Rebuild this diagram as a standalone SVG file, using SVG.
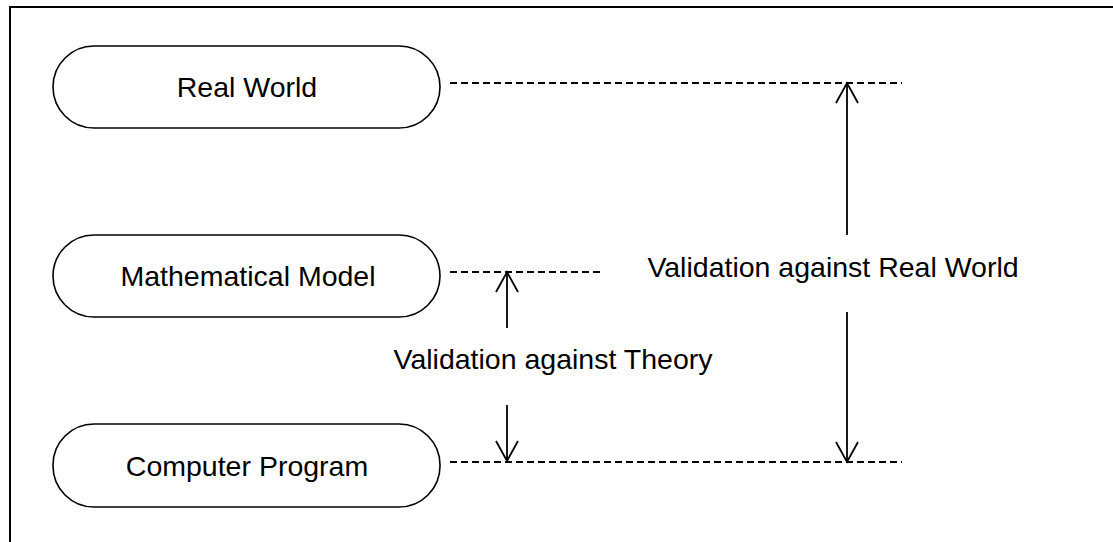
<svg xmlns="http://www.w3.org/2000/svg" width="1113" height="542" viewBox="0 0 1113 542">
<defs>
<style>
.node{fill:#fff;stroke:#000;stroke-width:1.6}
.lbl{font-family:"Liberation Sans",Arial,sans-serif;font-size:28.5px;fill:#000}
.dash{stroke:#000;stroke-width:1.8;stroke-dasharray:7 4;fill:none}
.arr{stroke:#000;stroke-width:1.8;fill:none}
</style>
<marker id="ah" viewBox="0 0 24 24" refX="22" refY="12" markerWidth="24" markerHeight="24" markerUnits="userSpaceOnUse" orient="auto">
<path d="M2,1 L22,12 L2,23" fill="none" stroke="#000" stroke-width="1.8"/>
</marker>
</defs>
<rect width="1113" height="542" fill="#fff"/>
<rect x="10" y="7" width="1200" height="600" fill="none" stroke="#000" stroke-width="2"/>
<g id="real-world">
<rect class="node" x="53" y="46" width="387" height="82" rx="41" ry="41"/>
<text class="lbl" x="247" y="97" text-anchor="middle">Real World</text>
</g>
<g id="mathematical-model">
<rect class="node" x="53" y="235" width="387" height="82" rx="41" ry="41"/>
<text class="lbl" x="248" y="286" text-anchor="middle">Mathematical Model</text>
</g>
<g id="computer-program">
<rect class="node" x="53" y="424" width="387" height="83" rx="41" ry="41"/>
<text class="lbl" x="247" y="476" text-anchor="middle">Computer Program</text>
</g>
<g id="connectors">
<line class="dash" x1="450" y1="83" x2="902" y2="83"/>
<line class="dash" x1="450" y1="272" x2="602" y2="272"/>
<line class="dash" x1="450" y1="462" x2="902" y2="462"/>
<line class="arr" x1="507" y1="328" x2="507" y2="272" marker-end="url(#ah)"/>
<line class="arr" x1="507" y1="405" x2="507" y2="461" marker-end="url(#ah)"/>
<line class="arr" x1="847" y1="235" x2="847" y2="83" marker-end="url(#ah)"/>
<line class="arr" x1="847" y1="312" x2="847" y2="462" marker-end="url(#ah)"/>
</g>
<g id="labels">
<text class="lbl" x="833" y="277" text-anchor="middle">Validation against Real World</text>
<text class="lbl" x="553" y="369" text-anchor="middle">Validation against Theory</text>
</g>
</svg>
